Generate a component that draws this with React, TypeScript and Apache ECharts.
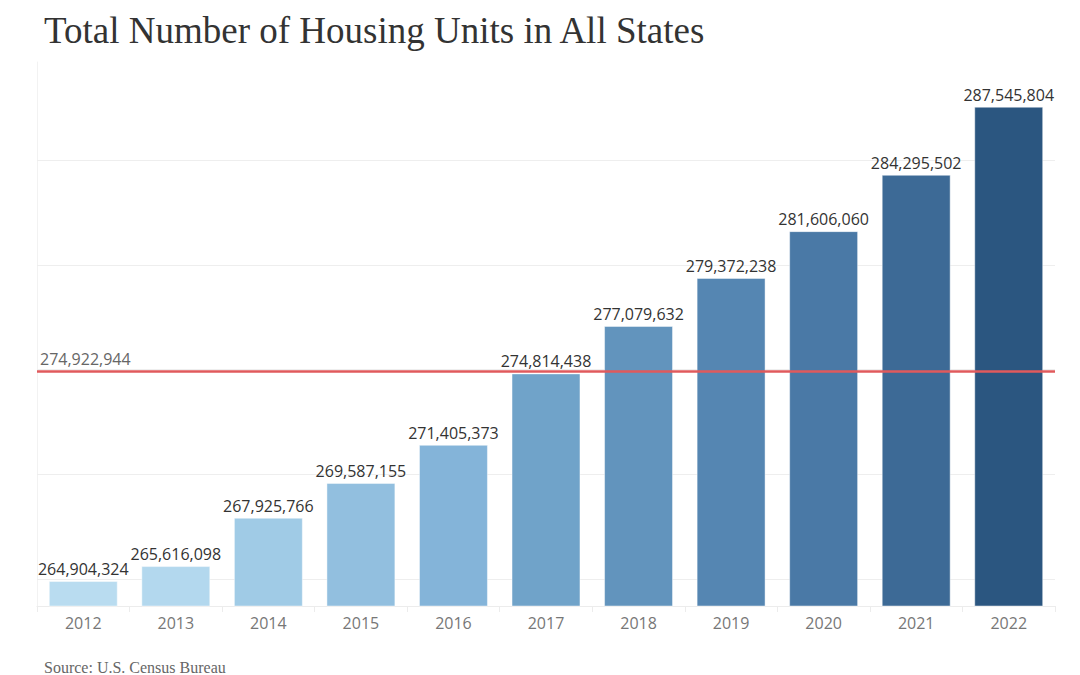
import React, { useEffect, useRef } from "react";
import * as echarts from "echarts";

const years = ["2012", "2013", "2014", "2015", "2016", "2017", "2018", "2019", "2020", "2021", "2022"];
const units = [264904324, 265616098, 267925766, 269587155, 271405373, 274814438, 277079632, 279372238, 281606060, 284295502, 287545804];
const barColors = ["#b9dcf0", "#b3d8ee", "#a0cbe6", "#92bfdf", "#84b4d9", "#70a3c9", "#6294bd", "#5586b2", "#4a79a6", "#3d6a96", "#2b5680"];
const averageValue = 274922944;
const gridValues = [265000000, 270000000, 275000000, 280000000, 285000000];
const axisMin = 263710000;
const axisMax = 289680000;

const fmt = (v: number) => v.toLocaleString("en-US");

export default function App() {
  const ref = useRef<HTMLDivElement>(null);
  useEffect(() => {
    document.body.style.margin = "0";
    if (!ref.current) return;
    const chart = echarts.init(ref.current, null, { renderer: "svg" });
    chart.setOption({
      animation: false,
      backgroundColor: "#ffffff",
      title: [
        {
          text: "Total Number of Housing Units in All States",
          left: 39,
          top: 7,
          textStyle: { fontFamily: "Liberation Serif", fontSize: 37, fontWeight: "normal", color: "#333333" },
        },
        {
          text: "Source: U.S. Census Bureau",
          left: 39,
          top: 653,
          textStyle: { fontFamily: "Liberation Serif", fontSize: 16, fontWeight: "normal", color: "#666666", lineHeight: 18 },
        },
      ],
      grid: { left: 37, right: 25, top: 62, bottom: 69, containLabel: false },
      xAxis: {
        type: "category",
        data: years,
        axisLine: { show: true, lineStyle: { color: "#ececec", width: 1 } },
        axisTick: { show: true, alignWithLabel: false, length: 6, lineStyle: { color: "#ececec" } },
        axisLabel: { color: "#777777", fontSize: 16, fontFamily: "Open Sans", margin: 9 },
      },
      yAxis: {
        type: "value",
        min: axisMin,
        max: axisMax,
        axisLine: { show: true, lineStyle: { color: "#f2f2f2", width: 1 } },
        axisTick: { show: false },
        axisLabel: { show: false },
        splitLine: { show: false },
      },
      series: [
        {
          type: "line",
          data: [],
          silent: true,
          markLine: {
            silent: true,
            z: 1,
            symbol: "none",
            label: { show: false },
            lineStyle: { color: "#eeeeee", width: 1, type: "solid" },
            data: gridValues.map((v) => ({ yAxis: v })),
          },
        },
        {
          type: "bar",
          z: 3,
          barWidth: "74.5%",
          data: units.map((v, i) => ({
            value: v,
            itemStyle: { color: barColors[i], borderColor: "rgba(255,255,255,0.45)", borderWidth: 1 },
          })),
          label: {
            show: true,
            position: "top",
            distance: 4,
            color: "#333333",
            fontSize: 16,
            fontFamily: "Open Sans",
            formatter: (p: any) => fmt(p.value),
          },
          markLine: {
            silent: true,
            z: 10,
            symbol: "none",
            lineStyle: { color: "#e05a5c", width: 2.5, type: "solid" },
            label: {
              show: true,
              position: "insideStartTop",
              distance: [3, 4],
              color: "#666666",
              fontSize: 16,
              fontFamily: "Open Sans",
              formatter: () => fmt(averageValue),
            },
            data: [{ yAxis: averageValue }],
          },
        },
      ],
    });
    return () => chart.dispose();
  }, []);
  return <div ref={ref} style={{ width: 1080, height: 675 }} />;
}
